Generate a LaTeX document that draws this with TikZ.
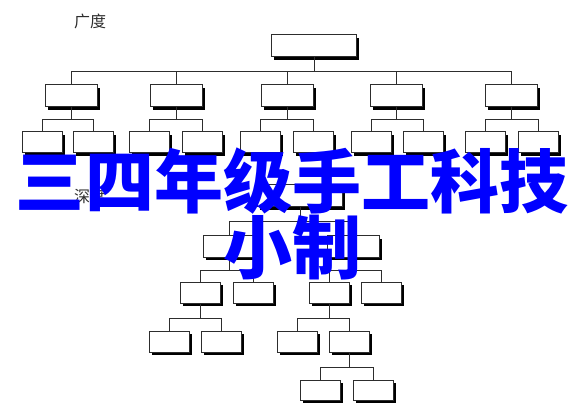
\documentclass[tikz,border=0pt]{standalone}
\usepackage{fontspec}
\usepackage{tikz}
\usetikzlibrary{shadows}
\newfontfamily\cjk{Noto Sans CJK SC}
\definecolor{titleblue}{RGB}{0, 0, 255}
\definecolor{linegray}{RGB}{45, 45, 45}

\begin{document}
\begin{tikzpicture}[x=1pt, y=-1pt,
    treebox/.style={draw=linegray, line width=1pt, fill=white, inner sep=0pt, outer sep=0pt,
        drop shadow={shadow xshift=2.8pt, shadow yshift=-2.8pt, fill=black, opacity=1}},
    bigbox/.style={treebox, minimum width=85pt, minimum height=22pt},
    midbox/.style={treebox, minimum width=52pt, minimum height=21pt},
    smallbox/.style={treebox, minimum width=40pt, minimum height=21pt},
    link/.style={draw=linegray, line width=0.9pt},
    treelabel/.style={font=\cjk\fontsize{16}{16}\selectfont, text=linegray, inner sep=0pt}]
        \fill[white] (0,0) rectangle (585,411);
        \useasboundingbox (0,0) rectangle (585,411);

        % 广度
        \node[treelabel] (breadth) at (90,21) {广度};
        \node[bigbox] (root) at (314,46) {};
        \foreach \n/\x/\xa/\xb in {1/71/42/93, 2/176/149/202, 3/287/260/313, 4/396/371/423, 5/511/485/538} {
            \node[midbox, minimum height=22pt] (b\n) at (\x,96) {};
            \node[smallbox] (b\n-1) at (\xa,142.5) {};
            \node[smallbox] (b\n-2) at (\xb,142.5) {};
            \draw[link] (b\n.north) -- ++(0,-14) -| (root.south);
            \draw[link] (b\n-1.north) -- ++(0,-13) -| (b\n.south);
            \draw[link] (b\n-2.north) -- ++(0,-13) -| (b\n.south);
        }

        % 深度
        \node[treelabel] (depth) at (90,196) {深度};
        \node[bigbox] (d) at (300,196) {};
        \node[midbox] (d1) at (229,246.5) {};
        \node[midbox] (d2) at (353,246.5) {};
        \node[smallbox] (d11) at (200,292.5) {};
        \node[smallbox] (d12) at (253,292.5) {};
        \node[smallbox] (d21) at (329,292.5) {};
        \node[smallbox] (d22) at (381,292.5) {};
        \node[smallbox] (d111) at (169,341.5) {};
        \node[smallbox] (d112) at (221,341.5) {};
        \node[smallbox] (d211) at (297,341.5) {};
        \node[smallbox] (d212) at (349,341.5) {};
        \node[smallbox, minimum height=20pt] (d2121) at (320,390) {};
        \node[smallbox, minimum height=20pt] (d2122) at (373,390) {};
        \foreach \c in {d1,d2}
            \draw[link] (\c.north) -- ++(0,-15) -| (d.south);
        \foreach \c in {d11,d12}
            \draw[link] (\c.north) -- ++(0,-12) -| (d1.south);
        \foreach \c in {d21,d22}
            \draw[link] (\c.north) -- ++(0,-12) -| (d2.south);
        \foreach \c in {d111,d112}
            \draw[link] (\c.north) -- ++(0,-13) -| (d11.south);
        \foreach \c in {d211,d212}
            \draw[link] (\c.north) -- ++(0,-13) -| (d21.south);
        \foreach \c in {d2121,d2122}
            \draw[link] (\c.north) -- ++(0,-13) -| (d212.south);

        % 标题
        \node[font=\cjk\bfseries\fontsize{69}{69}\selectfont, text=titleblue, inner sep=0pt] (title) at (292,181) {三四年级手工科技};
        \node[font=\cjk\bfseries\fontsize{69}{69}\selectfont, text=titleblue, inner sep=0pt] (subtitle) at (292,248) {小制};
    \end{tikzpicture}
\end{document}
